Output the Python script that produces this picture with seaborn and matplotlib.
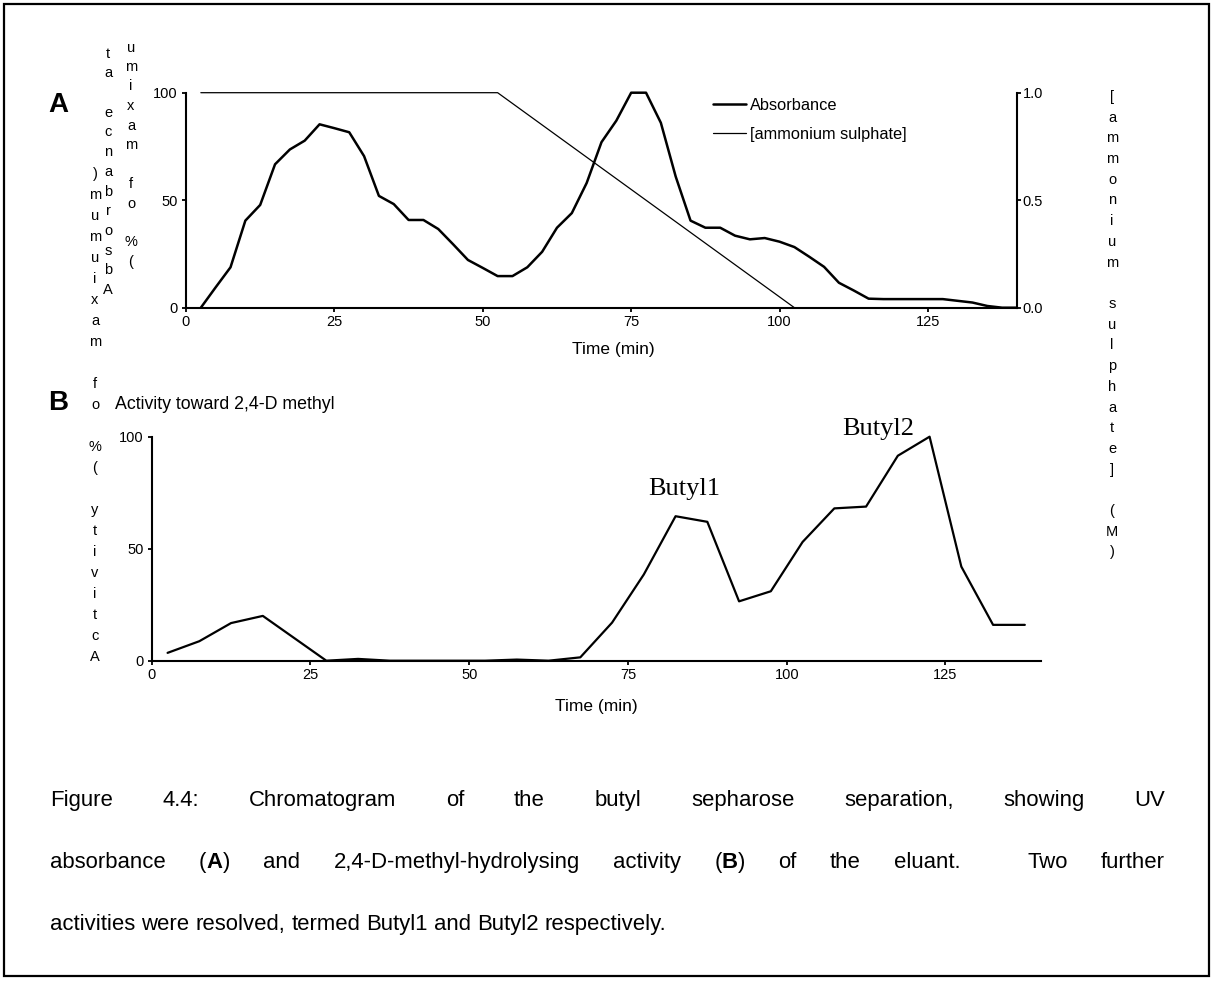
import matplotlib
matplotlib.use("Agg")
import matplotlib.pyplot as plt
import pandas as pd
import seaborn as sns
from matplotlib.lines import Line2D
from matplotlib.patches import Rectangle

# ---- data -------------------------------------------------------------
# UV absorbance of the eluant (% of maximum), fractions every 2.5 min
abs_time = [2.5, 5, 7.5, 10, 12.5, 15, 17.5, 20, 22.5, 25, 27.5, 30, 32.5,
            35, 37.5, 40, 42.5, 45, 47.5, 50, 52.5, 55, 57.5, 60, 62.5, 65,
            67.5, 70, 72.5, 75, 77.5, 80, 82.5, 85, 87.5, 90, 92.5, 95, 97.5,
            100, 102.5, 105, 107.5, 110, 112.5, 115, 117.5, 120, 122.5, 125,
            127.5, 130, 132.5, 135, 137.5, 140]
abs_pct = [0, 9.5, 18.8, 40.5, 47.8, 66.7, 73.6, 77.7, 85.3, 83.5, 81.6, 70.5,
           52, 48.2, 40.8, 40.8, 36.6, 29.5, 22.2, 18.5, 14.7, 14.7, 18.8, 26,
           37.2, 44, 58, 77, 87, 100, 100, 86, 61, 40.5, 37.2, 37.2, 33.5, 31.8,
           32.4, 30.7, 28.2, 23.7, 19, 11.6, 8, 4.2, 4, 4, 4, 4, 4, 3.2, 2.4,
           0.8, 0, 0]

# ammonium sulphate gradient (M)
salt_time = [2.5, 52.5, 102.5]
salt_molar = [1.0, 1.0, 0.0]

# activity toward 2,4-D methyl (% of maximum), fractions every 5 min
act_time = [2.5, 7.5, 12.5, 17.5, 22.5, 27.5, 32.5, 37.5, 42.5, 47.5, 52.5,
            57.5, 62.5, 67.5, 72.5, 77.5, 82.5, 87.5, 92.5, 97.5, 102.5, 107.5,
            112.5, 117.5, 122.5, 127.5, 132.5, 137.5]
act_pct = [3.5, 8.7, 16.8, 20, 10, 0, 0.8, 0, 0, 0, 0, 0.5, 0, 1.5, 17, 38.5,
           64.5, 62, 26.5, 31, 53, 68, 68.8, 91.5, 100, 42, 16, 16]

peak_names = ["Butyl1", "Butyl2"]
peak_times = [82.5, 122.5]

time_ticks = [0, 25, 50, 75, 100, 125]
pct_ticks = [0, 50, 100]
salt_ticks = [0.0, 0.5, 1.0]

abs_df = pd.DataFrame({"time": abs_time, "value": abs_pct})
salt_df = pd.DataFrame({"time": salt_time, "value": salt_molar})
act_df = pd.DataFrame({"time": act_time, "value": act_pct})

# ---- style ------------------------------------------------------------
sns.set_theme(style="ticks")
plt.rcParams["font.family"] = ["Liberation Sans", "DejaVu Sans"]
plt.rcParams.update({
    "axes.edgecolor": "black",
    "axes.linewidth": 1.5,
    "xtick.color": "black",
    "ytick.color": "black",
    "xtick.major.width": 1.3,
    "ytick.major.width": 1.3,
    "xtick.major.size": 3,
    "ytick.major.size": 3,
    "xtick.major.pad": 2,
    "ytick.major.pad": 3,
    "xtick.labelsize": 10.5,
    "ytick.labelsize": 10.5,
    "text.color": "black",
    "axes.labelcolor": "black",
})

W, H = 1214, 983
fig = plt.figure(figsize=(W / 100, H / 100), dpi=100)
fig.patch.set_facecolor("white")


def px_box(left, top, right, bottom):
    return [left / W, 1 - bottom / H, (right - left) / W, (bottom - top) / H]


def fx(x):
    return x / W


def fy(y):
    return 1 - y / H


# ---- panel A: absorbance and salt gradient ----------------------------
axA = fig.add_axes(px_box(186, 92.7, 1017, 307.7))
axA.set_facecolor("none")
sns.lineplot(data=abs_df, x="time", y="value", ax=axA, color="black",
             linewidth=1.8, estimator=None, sort=False, clip_on=False)
axA.set_xlim(0, 140)
axA.set_ylim(0, 100)
axA.set_xticks(time_ticks)
axA.set_yticks(pct_ticks)
axA.set_ylabel("")
axA.set_xlabel("Time (min)", fontsize=12.5)
axA.xaxis.set_label_coords((613 - 186) / 831, -0.16)
for side in ("top", "right"):
    axA.spines[side].set_visible(False)

axS = axA.twinx()
sns.lineplot(data=salt_df, x="time", y="value", ax=axS, color="black",
             linewidth=0.9, estimator=None, sort=False, clip_on=False)
axS.set_ylim(0, 1.0)
axS.set_yticks(salt_ticks)
axS.set_yticklabels([f"{v:.1f}" for v in salt_ticks])
axS.set_ylabel("")
axS.tick_params(axis="y", pad=1)
for side in ("top", "left", "bottom"):
    axS.spines[side].set_visible(False)

handles = [Line2D([], [], color="black", linewidth=1.8),
           Line2D([], [], color="black", linewidth=0.9)]
axS.legend(handles, ["Absorbance", "[ammonium sulphate]"],
           loc="upper left", bbox_to_anchor=((713 - 186) / 831, 0.975),
           frameon=False, fontsize=11.8, handlelength=2.0, handletextpad=0.25,
           labelspacing=0.85, borderpad=0, borderaxespad=0)

# ---- panel B: activity ------------------------------------------------
axB = fig.add_axes(px_box(151.7, 436.7, 1040.7, 660.7))
axB.set_facecolor("none")
sns.lineplot(data=act_df, x="time", y="value", ax=axB, color="black",
             linewidth=1.6, estimator=None, sort=False, clip_on=False)
axB.set_xlim(0, 140)
axB.set_ylim(0, 100)
axB.set_xticks(time_ticks)
axB.set_yticks(pct_ticks)
axB.set_ylabel("")
axB.set_xlabel("Time (min)", fontsize=12.5)
axB.xaxis.set_label_coords(0.5, -0.17)
for side in ("top", "right"):
    axB.spines[side].set_visible(False)

act_lookup = dict(zip(act_time, act_pct))
for name, t, off in zip(peak_names, peak_times, [(6, 15), (-37, 1)]):
    axB.annotate(name, xy=(t, act_lookup[t]), xytext=off,
                 textcoords="offset points", ha="center", va="baseline",
                 fontsize=19, family="Liberation Serif")

# ---- panel letters and headings ---------------------------------------
fig.text(fx(58), fy(112), "A", fontsize=20, fontweight="bold",
         ha="center", va="baseline")
fig.text(fx(58), fy(410), "B", fontsize=20, fontweight="bold",
         ha="center", va="baseline")
fig.text(fx(115), fy(409), "Activity toward 2,4-D methyl", fontsize=12.8,
         ha="left", va="baseline")


# axis titles set as columns of upright letters, read bottom to top
def letters_up(text, x, y_bottom, step, size=10.5):
    for i, ch in enumerate(text):
        if ch != " ":
            fig.text(fx(x), fy(y_bottom - i * step), ch, fontsize=size,
                     ha="center", va="center")


def letters_down(text, x, y_top, step, size=10.5):
    for i, ch in enumerate(text):
        if ch != " ":
            fig.text(fx(x), fy(y_top + i * step), ch, fontsize=size,
                     ha="center", va="center")


letters_up("Absorbance at", 108, 290, 19.7)
letters_up("(% of maximu", 131, 262, 19.5)
letters_up("Activity (% of maxiumum)", 95, 657, 21)
letters_down("[ammonium sulphate] (M)", 1112, 97, 20.7)

# ---- caption ----------------------------------------------------------
cap_font = {"family": "Liberation Sans"}
renderer = fig.canvas.get_renderer()
cap_lines = [
    "Figure 4.4: Chromatogram of the butyl sepharose separation, showing UV",
    "absorbance (**A**) and 2,4-D-methyl-hydrolysing activity (**B**) of "
    "the eluant.  Two further",
    "activities were resolved, termed Butyl1 and Butyl2 respectively.",
]


def run_width(s, weight, size):
    t = fig.text(0, 0, s, fontsize=size, fontweight=weight, **cap_font)
    w = t.get_window_extent(renderer).width
    t.remove()
    return w


# the last, unjustified line runs from x=50 to x=667
cap_size = 10 * 617 / run_width(cap_lines[2], "normal", 10)
space_w = (run_width("a a", "normal", cap_size)
           - run_width("aa", "normal", cap_size))


def caption_line(line, baseline, x0, x1=None):
    runs = [(p, "bold" if k % 2 else "normal")
            for k, p in enumerate(line.split("**")) if p]
    words = [[]]
    for text, wt in runs:
        for k, piece in enumerate(text.split(" ")):
            if k > 0:
                words.append([])
            if piece:
                words[-1].append((piece, wt))
    widths = [sum(run_width(p, wt, cap_size) for p, wt in w) for w in words]
    gap = space_w
    if x1 is not None and len(words) > 1:
        gap = (x1 - x0 - sum(widths)) / (len(words) - 1)
    x = x0
    for w in words:
        for p, wt in w:
            fig.text(fx(x), fy(baseline), p, fontsize=cap_size,
                     fontweight=wt, ha="left", va="baseline", **cap_font)
            x += run_width(p, wt, cap_size)
        x += gap


caption_line(cap_lines[0], 806, 50, 1165)
caption_line(cap_lines[1], 868, 50, 1165)
caption_line(cap_lines[2], 930, 50)

# page frame
fig.add_artist(Rectangle((fx(4), fy(976)), (1209 - 4) / W, (976 - 4) / H,
                         transform=fig.transFigure, fill=False,
                         edgecolor="black", linewidth=1.6))

fig.savefig("out.png", dpi=100, facecolor="white")
